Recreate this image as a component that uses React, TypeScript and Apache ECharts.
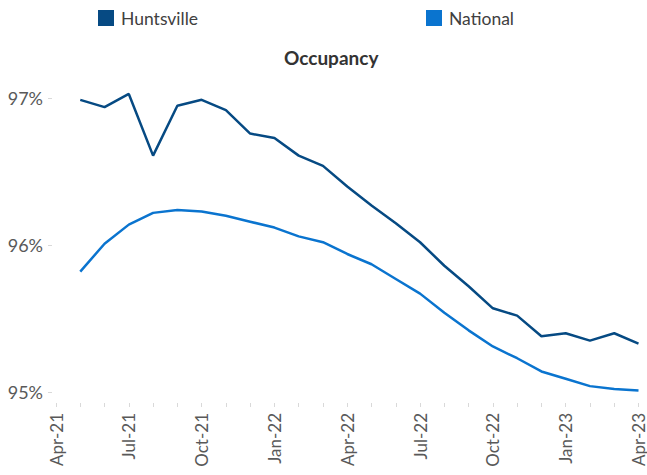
import React, { useEffect, useRef } from "react";
import * as echarts from "echarts";

const months = [
  "Apr-21", "May-21", "Jun-21", "Jul-21", "Aug-21", "Sep-21", "Oct-21", "Nov-21", "Dec-21",
  "Jan-22", "Feb-22", "Mar-22", "Apr-22", "May-22", "Jun-22", "Jul-22", "Aug-22", "Sep-22",
  "Oct-22", "Nov-22", "Dec-22", "Jan-23", "Feb-23", "Mar-23", "Apr-23",
];

const huntsville = [
  null, 96.99, 96.94, 97.03, 96.61, 96.95, 96.99, 96.92, 96.76, 96.73, 96.61, 96.54, 96.4,
  96.27, 96.15, 96.02, 95.86, 95.72, 95.57, 95.52, 95.38, 95.4, 95.35, 95.4, 95.33,
];

const national = [
  null, 95.82, 96.01, 96.14, 96.22, 96.24, 96.23, 96.2, 96.16, 96.12, 96.06, 96.02, 95.94,
  95.87, 95.77, 95.67, 95.54, 95.42, 95.31, 95.23, 95.14, 95.09, 95.04, 95.02, 95.01,
];

const yTicks = [95, 96, 97];

const FONT = "Lato, 'Open Sans', sans-serif";
const HUNTS_COLOR = "#064A83";
const NAT_COLOR = "#0A74CF";

export default function App() {
  const ref = useRef<HTMLDivElement>(null);

  useEffect(() => {
    if (!ref.current) return;
    const chart = echarts.init(ref.current, undefined, { renderer: "svg" });
    chart.setOption({
      animation: false,
      backgroundColor: "#ffffff",
      title: {
        text: "Occupancy",
        left: 279,
        top: 43,
        textStyle: { fontFamily: FONT, fontSize: 19, fontWeight: "bold", color: "#333333" },
      },
      legend: [
        {
          data: ["Huntsville"],
          left: 93,
          top: 4,
          icon: "rect",
          itemWidth: 16,
          itemHeight: 16,
          textStyle: { fontFamily: FONT, fontSize: 17.5, color: "#404040", padding: [0, 0, 0, 2] },
        },
        {
          data: ["National"],
          left: 421,
          top: 4,
          icon: "rect",
          itemWidth: 16,
          itemHeight: 16,
          textStyle: { fontFamily: FONT, fontSize: 17.5, color: "#404040", padding: [0, 0, 0, 2] },
        },
      ],
      grid: { left: 56, right: 8, top: 69, bottom: 83, containLabel: false },
      xAxis: {
        type: "category",
        data: months,
        boundaryGap: false,
        offset: 11,
        axisLine: { show: false },
        axisTick: { show: true, interval: 0, length: 4, lineStyle: { color: "#d9d9d9" } },
        axisLabel: {
          interval: 2,
          rotate: 90,
          margin: 10,
          fontFamily: FONT,
          fontSize: 17,
          color: "#595959",
        },
        splitLine: { show: false },
      },
      yAxis: {
        type: "value",
        min: 95,
        max: 97.2,
        interval: 1,
        offset: 4,
        axisLine: { show: false },
        axisTick: { show: true, length: 4, lineStyle: { color: "#d9d9d9" } },
        axisLabel: {
          showMaxLabel: false,
          margin: 9,
          fontFamily: FONT,
          fontSize: 18,
          color: "#595959",
          formatter: (v: number) => (yTicks.includes(Math.round(v * 100) / 100) ? `${Math.round(v)}%` : ""),
        },
        splitLine: { show: false },
      },
      series: [
        {
          name: "Huntsville",
          type: "line",
          data: huntsville,
          symbol: "none",
          itemStyle: { color: HUNTS_COLOR },
          lineStyle: { color: HUNTS_COLOR, width: 2.5 },
        },
        {
          name: "National",
          type: "line",
          data: national,
          symbol: "none",
          itemStyle: { color: NAT_COLOR },
          lineStyle: { color: NAT_COLOR, width: 2.5 },
        },
      ],
    });
    return () => chart.dispose();
  }, []);

  return (
    <div
      ref={ref}
      style={{ position: "fixed", left: 0, top: 0, width: 647, height: 475 }}
    />
  );
}
